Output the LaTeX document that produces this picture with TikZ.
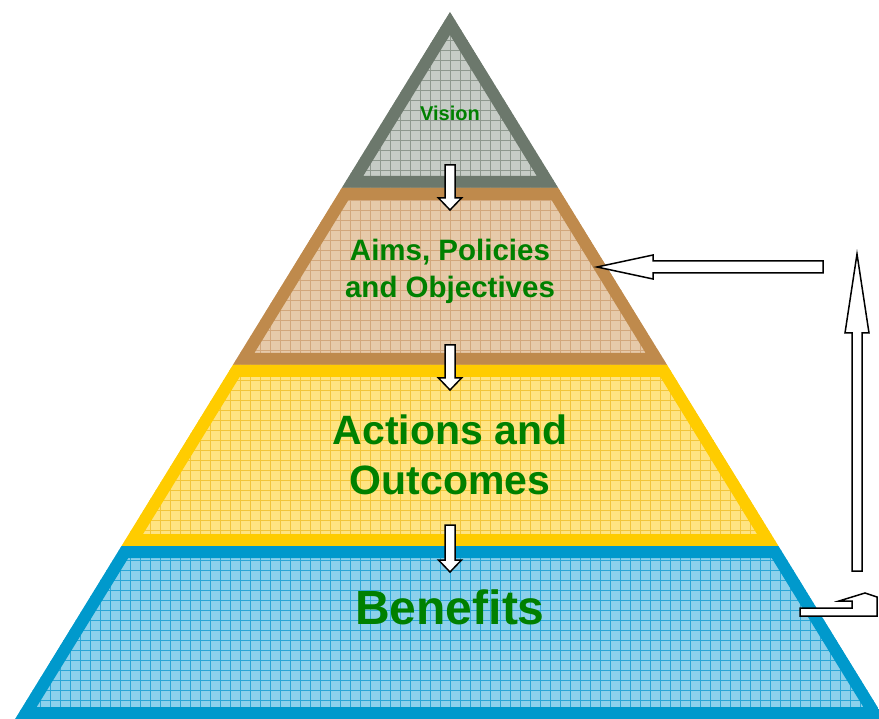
\documentclass[tikz,border=0pt]{standalone}
\usepackage{fontspec}
\setmainfont{Liberation Sans}

\definecolor{visionborder}{HTML}{6C786C}
\definecolor{visionfill}{HTML}{C6CCC6}
\definecolor{visiongrid}{HTML}{8E988E}
\definecolor{aimsborder}{HTML}{BF8A4C}
\definecolor{aimsfill}{HTML}{E6CAAA}
\definecolor{aimsgrid}{HTML}{D2A77C}
\definecolor{actionsborder}{HTML}{FFCC00}
\definecolor{actionsfill}{HTML}{FFE482}
\definecolor{actionsgrid}{HTML}{F2C53A}
\definecolor{benefitsborder}{HTML}{0099CC}
\definecolor{benefitsfill}{HTML}{8CD1EC}
\definecolor{benefitsgrid}{HTML}{2AA6D6}
\definecolor{textgreen}{HTML}{008000}

% one layer of the pyramid: #1 outline, #2 border, #3 fill, #4 grid lines
\newcommand{\pyrlayer}[4]{%
  \begin{scope}
    \clip #1;
    \fill[#3] #1;
    \foreach \gx in {0,10,...,880} \draw[#4, line width=0.7pt] (\gx,0) -- (\gx,719);
    \foreach \gy in {0,10,...,720} \draw[#4, line width=0.7pt] (0,\gy) -- (879,\gy);
    \draw[#2, line width=24pt, line join=miter] #1;
  \end{scope}}

\tikzset{
  layer text/.style={text=textgreen, align=center, inner sep=0pt},
  block arrow/.style={draw=black, fill=white, line width=1.5pt, line join=miter},
}

\begin{document}
\begin{tikzpicture}[x=1pt, y=-1pt]

    \def\cx{450}     %centre of the pyramid
    \def\ty{12}      %apex
    \def\s{0.615}    %half width per unit of height

    \useasboundingbox (0,0) rectangle (879,719);
    \clip (0,0) rectangle (879,719);

    %LAYERS (top to bottom)
    \pyrlayer{(\cx,\ty) -- ({\cx+\s*(188-\ty)},188) -- ({\cx-\s*(188-\ty)},188) -- cycle}
        {visionborder}{visionfill}{visiongrid}
    \pyrlayer{({\cx-\s*(188-\ty)},188) -- ({\cx+\s*(188-\ty)},188) -- ({\cx+\s*(365-\ty)},365) -- ({\cx-\s*(365-\ty)},365) -- cycle}
        {aimsborder}{aimsfill}{aimsgrid}
    \pyrlayer{({\cx-\s*(365-\ty)},365) -- ({\cx+\s*(365-\ty)},365) -- ({\cx+\s*(546-\ty)},546) -- ({\cx-\s*(546-\ty)},546) -- cycle}
        {actionsborder}{actionsfill}{actionsgrid}
    \pyrlayer{({\cx-\s*(546-\ty)},546) -- ({\cx+\s*(546-\ty)},546) -- ({\cx+\s*(719-\ty)},719) -- ({\cx-\s*(719-\ty)},719) -- cycle}
        {benefitsborder}{benefitsfill}{benefitsgrid}

    %LABELS
    \node[layer text, font=\bfseries\fontsize{20}{24}\selectfont] (vision) at (\cx,113) {Vision};
    \node[layer text, font=\bfseries\fontsize{29.5}{37}\selectfont] (aims) at (\cx,271) {Aims, Policies\\and Objectives};
    \node[layer text, font=\bfseries\fontsize{41}{50}\selectfont] (actions) at (\cx,455) {Actions and\\Outcomes};
    \node[layer text, font=\bfseries\fontsize{48}{56}\selectfont] (benefits) at (\cx,607) {Benefits};

    %DOWN ARROWS between the layers: top / head base / tip
    \foreach \top/\hb/\tip in {165/198/210, 345/378/390, 525/560/572}{
        \draw[block arrow] (\cx-5,\top) -- (\cx+5,\top) -- (\cx+5,\hb) -- (\cx+11.5,\hb)
            -- (\cx,\tip) -- (\cx-11.5,\hb) -- (\cx-5,\hb) -- cycle;
    } %end of arrow loop

    %FEEDBACK on the right
    \draw[block arrow] (800,608) -- (852,608) -- (852,601) -- (839,601) -- (865,593)
        -- (877,597) -- (877,616) -- (800,616) -- cycle;
    \draw[block arrow] (852,571) -- (852,333) -- (845,333) -- (857,254) -- (869,333)
        -- (862,333) -- (862,571) -- cycle;
    \draw[block arrow] (823,261) -- (653,261) -- (653,255) -- (597,267) -- (653,279)
        -- (653,273) -- (823,273) -- cycle;

\end{tikzpicture}
\end{document}
